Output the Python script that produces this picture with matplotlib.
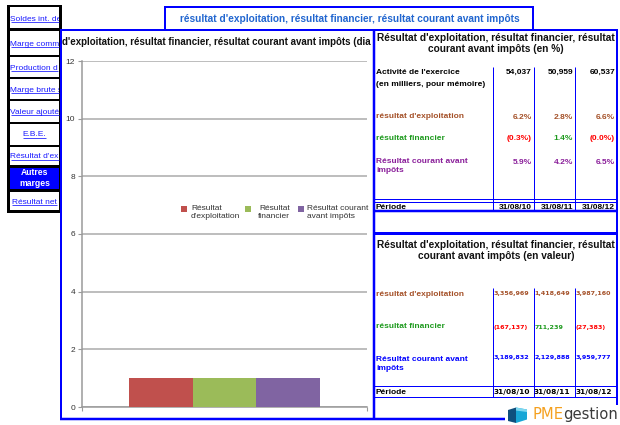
import matplotlib
matplotlib.use("Agg")
import matplotlib.pyplot as plt
from matplotlib.patches import Rectangle, Polygon

plt.rcParams['font.family'] = ['Liberation Sans', 'DejaVu Sans']

# data read from the page (nav labels as far as they show before the chart panel)
nav_items = ["Soldes int. de", "Marge comm", "Production d",
             "Marge brute s", "Valeur ajouté", "E.B.E.",
             "Résultat d'ex", "Autres marges", "Résultat net"]
series_names = ["Résultat d'exploitation", "Résultat financier", "Résultat courant avant impôts"]
legend_labels = ["Résultat\nd'exploitation", "Résultat\nfinancier", "Résultat courant\navant impôts"]
series_values = [1, 1, 1]
series_colors = ['#c0504d', '#9bbb59', '#8064a2']

periods = ['31/08/10', '31/08/11', '31/08/12']
activite = [54037, 50959, 60537]
pct_exploitation = [6.2, 2.8, 6.6]
pct_financier = [-0.3, 1.4, -0.0]
pct_courant = [5.9, 4.2, 6.5]
val_exploitation = [3356969, 1418649, 3987160]
val_financier = [-167137, 711239, -27383]
val_courant = [3189832, 2129888, 3959777]

BLUE = '#0000ff'
LINK = '#1a1aff'
BROWN = '#a5522a'
GREEN = '#1e9a1e'
PURPLE = '#8a1f9a'
RED = '#ff0000'
TITLE_FS = 7.25

W, H = 620, 425
fig = plt.figure(figsize=(6.2, 4.25), dpi=100)
fig.patch.set_facecolor('white')


def overlay(z):
    a = fig.add_axes([0, 0, 1, 1], zorder=z)
    a.set_xlim(0, W)
    a.set_ylim(H, 0)
    a.axis('off')
    return a


bg = overlay(0)
ax = fig.add_axes([82 / W, (H - 407) / H, 285 / W, 346 / H], zorder=1)
fg = overlay(2)
renderer = fig.canvas.get_renderer()


def px(w):
    return w * 0.72


def line(a, xs, ys, color=BLUE, w=1.0, z=5):
    a.plot(xs, ys, color=color, lw=px(w), solid_capstyle='butt', zorder=z)


def box(a, x0, y0, x1, y1, fc='white', ec='none', w=0, z=1):
    r = Rectangle((x0, y0), x1 - x0, y1 - y0, facecolor=fc, edgecolor=ec, lw=px(w), zorder=z)
    a.add_patch(r)
    return r


def clip_rect(a, x0, y0, x1, y1):
    return Rectangle((x0, y0), x1 - x0, y1 - y0, transform=a.transData)


def width_of(t):
    bb = t.get_window_extent(renderer)
    return bb.x0, bb.x1


def fmt_pct(v):
    s = f"{v:.1f}"
    if s.startswith('-'):
        return f"({s[1:]}%)"
    return s + "%"


def fmt_val(v):
    if v < 0:
        return f"({-v:,})"
    return f"{v:,}"


# ---- left navigation
cells = [(7, 28), (30.5, 54.5), (56.5, 76.5), (79, 99), (101, 121.5),
         (124, 144.5), (146.5, 165), (168, 189), (192, 210)]
nav_y = [18, 43, 67, 89, 111, 134, 156, 178, 201]
centered = {"E.B.E.", "Résultat net"}
box(bg, 7, 5, 61.5, 213, fc='black')
for name, (t0, t1), yc in zip(nav_items, cells, nav_y):
    if name == "Autres marges":
        box(bg, 10, t0, 59, t1, fc=BLUE)
        bg.text(34.5, yc, "Autres\nmarges", color='white', fontsize=6.2, fontweight='bold',
                ha='center', va='center', linespacing=1.15, zorder=3)
        continue
    cell = box(bg, 10, t0, 58.5, t1, fc='white')
    x, ha = (34.5, 'center') if name in centered else (10.5, 'left')
    t = bg.text(x, yc + 2.5, name, color=LINK, fontsize=6, ha=ha, va='baseline',
                clip_on=True, zorder=3)
    t.set_clip_path(cell)
    x0, x1 = width_of(t)
    line(bg, [x0, min(x1, 58.5)], [yc + 3.6] * 2, color=LINK, w=0.8, z=3)

# ---- chart panel
box(bg, 60, 29, 373, 419, fc='white', z=4)
line(bg, [60.8, 60.8], [29, 419], w=2, z=6)
box(bg, 165, 7, 533, 29.5, fc='white', ec=BLUE, w=2, z=6)
bg.text(349.5, 18.5, "résultat d'exploitation, résultat financier, résultat courant avant impôts",
        color='#2166d0', fontsize=TITLE_FS, fontweight='bold', ha='center', va='center', zorder=7)

# chart title, as much of it as the panel shows
chart_title = "d'exploitation, résultat financier, résultat courant avant impôts (dia"
tmp = bg.text(0, 0, chart_title, fontsize=TITLE_FS, fontweight='bold')
c0, c1 = width_of(tmp)
tmp.remove()
ct = bg.text(62, 42, chart_title, fontsize=TITLE_FS * 312 / (c1 - c0), fontweight='bold',
             color='#111111', ha='left', va='center', zorder=7, clip_on=True)
ct.set_clip_path(clip_rect(bg, 61.8, 30.5, 373, 56))

# ---- bar chart
bw = 0.224
for i, (v, c) in enumerate(zip(series_values, series_colors)):
    ax.bar((i - 1) * bw, v, width=bw, color=c, label=series_names[i], zorder=3)
ax.set_xlim(-0.5, 0.5)
ax.set_ylim(0, 12)
ax.set_yticks(range(0, 13, 2))
ax.set_xticks([-0.5, 0.5])
ax.set_xticklabels(['', ''])
ax.yaxis.grid(True, color='#ababab', lw=1.1)
ax.set_axisbelow(True)
ax.tick_params(axis='y', labelsize=6, labelcolor='#333333', color='#9a9a9a', length=3, width=0.8, pad=2)
ax.tick_params(axis='x', color='#9a9a9a', length=3, width=0.8)
for s in ['top', 'right']:
    ax.spines[s].set_visible(False)
for s in ['left', 'bottom']:
    ax.spines[s].set_color('#9a9a9a')
    ax.spines[s].set_linewidth(1.1)
ax.patch.set_alpha(0)

# legend (drawn as on the page)
leg_sq = [181, 245, 298]
leg_tx = [(191, 'left'), (290, 'right'), (307, 'left')]
for c, lab, sx, (tx, ha) in zip(series_colors, legend_labels, leg_sq, leg_tx):
    box(bg, sx, 205.5, sx + 6, 211.5, fc=c, z=7)
    bg.text(tx, 204.5, lab, fontsize=6, color='#333333', ha=ha, va='top',
            multialignment=ha, linespacing=1.3, zorder=7)

# ---- right panel
box(fg, 373, 29.5, 617, 419, fc='white', z=1)
line(fg, [60, 617], [29.8, 29.8], w=2)
line(fg, [374, 374], [29, 419], w=2.5)
line(fg, [617, 617], [29, 405], w=2)
line(fg, [60, 505], [419, 419], w=2.5)

col_lines = [492.5, 533.5, 574.5]
col_right = [532, 573, 615]

# table 1 (en %)
fg.text(496, 38, "Résultat d'exploitation, résultat financier, résultat", fontsize=TITLE_FS,
        fontweight='bold', ha='center', va='center', color='#111111', zorder=6,
        clip_on=True).set_clip_path(clip_rect(fg, 375, 30, 617, 60))
fg.text(496, 49, "courant avant impôts (en %)", fontsize=TITLE_FS, fontweight='bold',
        ha='center', va='center', color='#111111', zorder=6)
for x in col_lines:
    line(fg, [x, x], [67, 211], w=1)
line(fg, [374, 617], [199, 199], w=1)
line(fg, [374, 617], [202, 202], w=1)
line(fg, [374, 617], [211, 211], w=2.5)

fg.text(376, 72, "Activité de l'exercice", fontsize=6, fontweight='bold', va='center', zorder=6)
fg.text(376, 84, "(en milliers, pour mémoire)", fontsize=6, fontweight='bold', va='center', zorder=6)
rows1 = [("résultat d'exploitation", BROWN, 117, pct_exploitation),
         ("résultat financier", GREEN, 139, pct_financier),
         ("Résultat courant avant\nimpôts", PURPLE, 162, pct_courant)]
for x, a in zip(col_right, activite):
    fg.text(x, 72, f"{a:,}", fontsize=6, fontweight='bold', ha='right', va='center', zorder=6)
for lab, c, y, vals in rows1:
    fg.text(376, y - 4, lab, fontsize=6, fontweight='bold', color=c, va='top',
            linespacing=1.4, zorder=6)
    for x, v in zip(col_right, vals):
        fg.text(x, y, fmt_pct(v), fontsize=6, fontweight='bold', ha='right', va='center',
                color=RED if fmt_pct(v).startswith('(') else c, zorder=6)
fg.text(376, 207, "Période", fontsize=6, fontweight='bold', va='center', zorder=6)
for x, p in zip(col_right, periods):
    fg.text(x, 207, p, fontsize=6, fontweight='bold', ha='right', va='center', zorder=6)

# table 2 (en valeur)
line(fg, [373, 617], [233, 233], w=3)
fg.text(496, 245, "Résultat d'exploitation, résultat financier, résultat", fontsize=TITLE_FS,
        fontweight='bold', ha='center', va='center', color='#111111', zorder=6,
        clip_on=True).set_clip_path(clip_rect(fg, 375, 235, 617, 265))
fg.text(496, 256, "courant avant impôts (en valeur)", fontsize=TITLE_FS, fontweight='bold',
        ha='center', va='center', color='#111111', zorder=6)
for x in col_lines:
    line(fg, [x, x], [288, 397], w=1)
line(fg, [374, 617], [386, 386], w=1)
line(fg, [374, 617], [397, 397], w=1)

col_left = [494, 534.5, 576]
rows2 = [("résultat d'exploitation", BROWN, 295, 293, val_exploitation),
         ("résultat financier", GREEN, 327, 327, val_financier),
         ("Résultat courant avant\nimpôts", BLUE, 360, 358, val_courant)]
for lab, c, y, yv, vals in rows2:
    fg.text(376, y - 4, lab, fontsize=6, fontweight='bold', color=c, va='top',
            linespacing=1.4, zorder=6)
    for x, v in zip(col_left, vals):
        fg.text(x, yv, fmt_val(v), fontsize=4.6, fontweight='bold', family='DejaVu Sans',
                ha='left', va='center', color=RED if v < 0 else c, zorder=6)
fg.text(376, 392, "Période", fontsize=6, fontweight='bold', va='center', zorder=6)
for x, p in zip(col_left, periods):
    fg.text(x - 0.5, 392, p, fontsize=5.3, fontweight='bold', family='DejaVu Sans',
            ha='left', va='center', zorder=6)

# ---- logo
fg.add_patch(Polygon([(508, 410), (516, 407.5), (516, 423), (508, 421)], closed=True,
                     facecolor='#0f4f7d', edgecolor='none', zorder=6))
fg.add_patch(Polygon([(516, 407.5), (527, 409.5), (527, 419.5), (516, 423)], closed=True,
                     facecolor='#17a6d6', edgecolor='none', zorder=6))
fg.add_patch(Polygon([(516, 407.5), (527, 409.5), (527, 412), (516, 410.5)], closed=True,
                     facecolor='#7fd8f0', edgecolor='none', zorder=7))
pme = fg.text(532, 419, "PME", fontsize=10.6, color='#f5a01e', family='DejaVu Sans',
              va='baseline', ha='left', zorder=6)
p0, p1 = width_of(pme)
fg.text(p1, 419, "gestion", fontsize=10.6, color='#3a3a3a', family='DejaVu Sans',
        va='baseline', ha='left', zorder=6)

fig.savefig("out.png", dpi=100)
